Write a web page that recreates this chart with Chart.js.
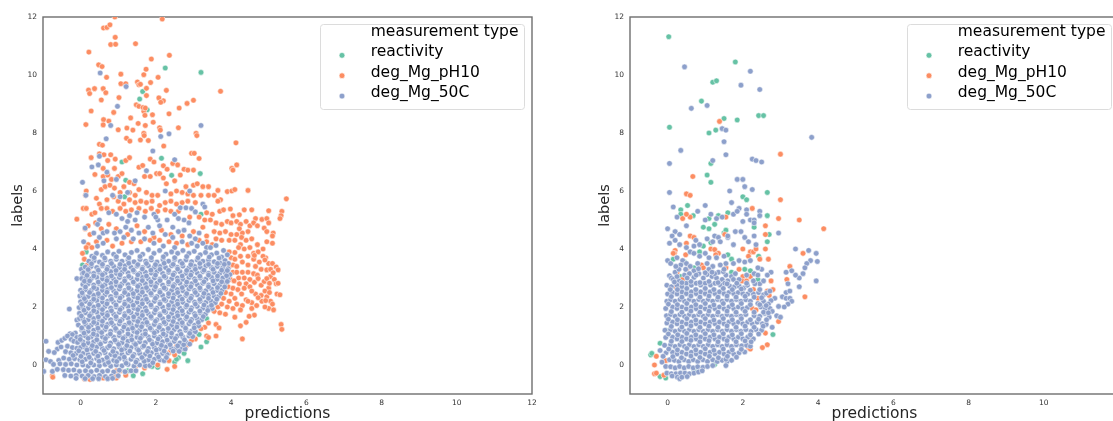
<!DOCTYPE html>
<html><head><meta charset="utf-8">
<script src="https://cdn.jsdelivr.net/npm/chart.js@4"></script>
<style>
html,body{margin:0;padding:0;background:#fff;width:1113px;height:421px;overflow:hidden}
canvas{position:absolute;top:0;filter:blur(0.7px)}
#a{left:0}#b{left:587px}
</style></head><body>
<canvas id="a" width="550" height="421"></canvas>
<canvas id="b" width="550" height="421"></canvas>
<script>
const seriesNames=["reactivity","deg_Mg_pH10","deg_Mg_50C"];
const legendTitle="measurement type";
const seriesColors=["#66c2a5","#fc8d62","#8da0cb"];
const tickValues=[0,2,4,6,8,10,12];

const leftReactivity=[2.25,10.24,3.2,10.09,1.65,9.43,1.57,9.17,1.77,8.8,1.1,7,2.15,7.13,2.42,6.54,3.18,6.6,1.2,6.37,1.17,5.8,3.2,5.2,0.15,3.9,0.05,3.45,3.35,1.6,3.15,1.05,3.2,0.62,3.35,0.8,2.85,0.15,2.7,0.5,2.65,0.75,2.75,0.4,2.6,0.25,2.5,0.1,2.05,-0.08,1.9,-0.05,1.65,-0.3,1.4,-0.2,1.4,-0.37,1.25,-0.2,2.72,0.72,2.55,0.2];

const leftPH10=[0.91,12,2.17,11.93,0.61,11.62,0.7,11.64,0.78,11.73,0.92,11.3,0.8,11.05,0.93,11.06,1.46,11.08,0.22,10.79,2.36,10.68,1.88,10.55,0.48,10.35,0.57,10.29,0.69,9.92,1.07,10.03,1.74,10.2,1.68,10.01,2.06,9.92,0.21,9.48,0.24,9.36,0.37,9.53,0.6,9.53,0.67,9.39,0.55,9.14,1.02,9.22,1.07,9.7,1.2,9.7,1.51,9.76,1.55,9.66,1.59,9.68,1.86,9.74,1.75,9.54,1.75,9.29,2.28,9.47,2.08,9.21,2.2,9.11,2.13,9.06,0.28,8.76,0.88,8.71,1.48,8.97,1.55,8.92,1.68,8.75,1.66,8.88,1.72,8.86,1.71,8.61,1.91,8.63,2.35,8.66,2.62,8.86,2.83,9.02,3,9.13,3.72,9.44,0.14,8.29,0.61,8.46,0.75,8.41,0.6,8.28,1.33,8.52,1.53,8.33,1.72,8.26,1.93,8.37,2.1,8.18,2.12,8.1,2.6,8.18,1,8.11,1.23,8.17,1.39,8.1,3.07,7.99,3.09,7.91,4.13,7.66,1.22,7.82,1.31,7.72,1.59,7.76,1.68,7.99,1.69,7.91,1.8,7.74,0.5,7.61,0.58,7.58,2.21,7.55,
0.28,7.15,0.5,7.28,0.62,7.25,0.8,7.25,0.72,7.05,0.92,7.1,1.2,7.05,1.3,7.15,0.38,6.57,0.6,6.78,0.9,6.78,1.55,6.82,1.65,6.88,1.85,7.1,1.95,7.0,2.02,6.6,2.1,6.6,2.2,6.87,2.3,6.75,2.45,6.95,2.58,6.9,2.75,6.75,2.85,6.72,3,6.72,3.15,7.12,2.95,7.3,3.02,7.3,4.02,6.78,4.05,6.72,4.15,6.9,
0.6,6.5,0.72,6.55,0.82,6.4,1,6.5,1.1,6.6,1.3,6.3,1.42,6.25,1.7,6.5,1.85,6.5,2.2,6.45,2.28,6.25,2.5,6.35,2.65,6.55,2.8,6.15,3,6.2,3.1,6.25,3.25,6.15,3.4,6.15,3.65,6.02,3.9,5.98,4.02,6,4.1,6.05,4.45,6.02,0.15,6,0.13,5.85,0.55,6.05,0.65,6.15,0.78,6.2,0.9,6.1,1.05,5.95,1.15,6.15,1.3,5.95,1.45,5.85,1.55,6.05,1.75,5.95,1.9,5.85,2.05,5.85,2.4,5.9,2.55,6.0,2.7,5.95,2.85,5.9,3,5.85,3.2,5.85,3.4,5.85,3.55,5.85,3.72,5.7,3.65,5.65,5.47,5.73,
0.42,5.75,0.5,5.55,0.7,5.7,0.88,5.8,1,5.65,1.15,5.55,1.3,5.7,1.45,5.6,1.6,5.65,1.75,5.6,1.9,5.65,2.1,5.5,2.25,5.6,2.4,5.65,2.55,5.55,2.7,5.6,2.85,5.65,3.05,5.6,3.35,5.25,3.5,5.2,3.7,5.3,3.8,5.35,3.98,5.38,4.05,5.15,4.22,5.18,4.35,5.35,4.55,5.35,4.65,5.05,4.82,5.02,4.95,5.05,5.35,5.3,5.33,5.15,5.3,5.05,5.0,5.32,
0.07,5.4,0.15,5.4,0.3,5.2,0.38,5.25,0.55,5.4,0.7,5.4,0.85,5.3,1.05,5.4,1.2,5.3,1.35,5.35,1.55,5.4,1.72,5.3,1.88,5.4,2.05,5.3,2.25,5.35,2.4,5.3,2.6,5.3,2.9,5.1,3.15,5.1,3.3,5,3.45,5,3.6,4.9,3.75,4.85,3.9,4.95,4,4.9,4.15,4.95,4.25,4.85,4.4,4.95,4.5,4.8,4.6,4.9,4.7,4.8,4.88,4.72,5.0,4.9,4.95,4.6,5.12,4.55,5.1,4.45,5.1,4.2,4.95,4.25,4.45,4.6,4.3,4.55,4.22,4.7,4.15,4.5,4.28,4.4,
-0.1,5.03,0.2,4.8,0.12,4.7,0.25,4.5,0.4,4.9,0.55,4.7,0.75,4.85,0.95,4.7,1.25,4.5,1.5,4.8,1.7,4.6,1.95,4.4,2.15,4.65,2.4,4.5,2.7,4.45,3.0,4.6,3.25,4.75,3.35,4.45,3.55,4.6,3.7,4.55,3.85,4.6,4,4.5,3.6,4.35,3.75,4.3,3.95,4.3,4.1,4.3,4.25,4.15,4.4,4.3,4.55,4.35,4.7,4.15,
0.2,4.15,0.15,4.05,0.3,4.05,0.42,4.25,0.7,4.3,0.85,4.1,1.1,4.2,1.35,4.25,1.6,4.25,1.85,4.3,2.1,4.3,2.35,4.25,2.55,4.2,2.85,4.15,3.15,4.3,3.35,4.25,3.5,4.15,4.2,4.05,4.35,4.0,4.5,4.05,4.6,3.85,4.72,3.9,4.85,4.0,4.92,3.7,5.0,3.5,5.1,3.5,5.2,3.38,5.25,3.28,4.85,3.75,4.1,3.88,3.95,3.9,
0.05,3.85,0.1,3.65,0.18,3.45,0.22,3.3,0.17,3.1,0.18,3.0,0.2,2.85,4.0,3.7,4.1,3.65,4.25,3.75,4.45,3.75,4.6,3.65,4.75,3.55,3.95,3.4,4.05,3.45,4.15,3.4,4.3,3.55,4.45,3.45,4.65,3.4,4.8,3.3,4.95,3.28,5.05,3.05,5.15,2.95,5.2,2.8,5.0,2.65,4.9,2.55,
4.05,3.2,4.15,3.2,4.3,3.2,4.45,3.2,4.6,3.15,4.7,3.1,4.2,3,4.35,3,4.5,2.95,4.62,2.85,4.8,2.75,3.98,2.95,4.08,2.9,4.22,2.8,4.4,2.8,3.92,2.7,4.05,2.65,4.18,2.6,4.35,2.65,4.5,2.7,4.65,2.45,4.8,2.4,4.95,2.35,5.02,2.5,5.05,2.2,5.25,2.82,5.1,2.1,5.22,2.45,5.3,2.42,5.33,1.4,5.35,1.23,5,1.95,5.13,1.9,4.9,2.0,4.82,2.2,
3.85,2.5,4,2.45,4.1,2.3,4.28,2.45,4.4,2.25,4.55,2.15,3.8,2.3,3.95,2.2,4.15,2.1,4.3,2.05,4.45,2.2,3.65,2,3.75,2.1,3.9,2.0,4.05,1.95,4.25,1.9,4.55,1.95,4.68,2.05,3.55,1.85,3.7,1.8,3.85,1.75,4.1,1.65,3.6,1.4,3.68,1.28,4.25,1.35,4.4,1.47,3.6,1.0,3.35,1,3.4,0.95,4.3,0.9,3.3,1.3,3.4,1.45,3.2,1.25,3.05,0.9,2.95,0.85,2.8,0.65,
4.62,3.78,4.9,3.62,5.05,3.3,4.72,2.98,4.88,2.88,5.12,3.18,4.95,2.98,5.02,2.82,4.55,2.55,4.72,2.32,4.92,2.22,4.62,1.72,4.48,1.68,
-0.75,-0.37,-0.74,-0.42,0.1,-0.47,0.25,-0.5,0.15,-0.42,0.6,-0.45,0.95,-0.45,0.93,-0.35,1.2,-0.35,1.45,-0.1,1.7,-0.1,2.5,-0.05,2.3,-0.15,2.35,0.15,2.5,0.35,2.25,0.4,2.35,0.42,2.4,0.5,2.6,0.5,2.55,0.65,1.05,-0.2,0.95,-0.2,2.05,0.0];

const left50C=[0.52,10.07,1.21,9.6,0.98,8.92,0.8,8.26,0.68,7.8,3.2,8.26,2.13,7.88,2.35,7.97,1.92,7.38,0.5,7.2,0.47,6.9,0.3,6.83,1.75,6.7,2.5,7.08,0.05,6.3,0.14,5.85,0.7,6.65,0.62,6.35,0.95,6.4,1.45,6.35,2.25,6,2.9,6,3.25,5.55,3.3,5.45,-0.3,1.93,-0.1,2.98,0.02,3.3,0.05,3.15,0.12,4.72,0.08,4.25,0.85,5.85,1.05,5.8,1.25,5.95,0.5,5.0,0.45,4.85,0.6,4.55,0.75,5.25,0.95,5.2,1.1,5.05,1.3,5.15,1.25,4.95,1.45,5.0,1.5,5.25,1.7,5.1,1.95,5.2,2.05,5.0,2.0,5.1,2.3,5,2.5,5.2,2.65,5.42,2.8,5.42,2.95,5.4,3.05,5.28,2.75,5.0,2.6,5.05,2.88,4.9,2.45,4.75,
0.35,4.55,0.5,4.4,0.7,4.6,0.9,4.55,1.05,4.6,1.2,4.75,1.35,4.65,1.55,4.55,1.8,4.75,1.92,4.55,2.1,4.8,2.25,4.5,2.45,4.4,2.6,4.6,2.75,4.65,2.9,4.45,3.05,4.35,3.15,4.55,3.25,4.2,3.35,4.05,0.45,4.1,0.6,4.2,0.95,4.35,1.15,4.4,1.4,4.35,1.7,4.35,1.95,4.2,2.2,4.1,2.5,4.05,2.7,4.25,2.95,4.2,3.1,4.1,3.45,4.05,3.6,4.12,3.8,3.95,3.9,3.8,
0.3,3.75,0.42,3.85,0.58,3.78,0.72,3.9,0.88,3.82,1.02,3.92,1.18,3.8,1.35,3.88,1.5,3.95,1.65,3.82,1.8,3.98,1.95,3.85,2.1,3.95,2.27,3.82,2.42,3.9,2.58,3.85,2.72,3.95,2.88,3.85,3.02,3.92,3.18,3.8,3.32,3.88,3.48,3.8,3.62,3.86,3.75,3.72,
0.22,3.58,0.36,3.6,0.5,3.55,0.65,3.62,0.8,3.58,0.95,3.65,1.1,3.58,1.26,3.62,1.42,3.56,1.58,3.64,1.73,3.58,1.88,3.62,2.03,3.55,2.19,3.63,2.34,3.58,2.5,3.64,2.65,3.57,2.8,3.62,2.95,3.56,3.1,3.62,3.25,3.58,3.4,3.62,3.55,3.56,3.7,3.52,3.84,3.6,3.93,3.5,
0.12,3.38,0.28,3.4,0.43,3.36,0.58,3.42,0.72,3.37,0.88,3.4,1.03,3.36,1.18,3.42,1.34,3.37,1.5,3.41,1.65,3.36,1.8,3.42,1.96,3.37,2.11,3.4,2.26,3.36,2.42,3.42,2.57,3.37,2.72,3.41,2.88,3.35,3.03,3.4,3.18,3.37,3.33,3.42,3.48,3.36,3.63,3.4,3.78,3.35,3.92,3.32,
0.08,3.18,0.21,3.2,0.35,3.16,0.5,3.2,0.65,3.17,0.8,3.22,0.95,3.16,1.1,3.2,1.26,3.18,1.42,3.22,1.57,3.15,1.72,3.2,1.88,3.17,2.03,3.22,2.18,3.16,2.34,3.2,2.49,3.17,2.64,3.22,2.8,3.16,2.95,3.2,3.1,3.17,3.25,3.22,3.4,3.16,3.55,3.2,3.7,3.16,3.85,3.18,3.97,3.12,
0.03,2.98,0.14,3,0.28,2.97,0.43,3.02,0.58,2.97,0.72,3,0.88,2.96,1.03,3.02,1.18,2.97,1.34,3,1.5,2.96,1.65,3.02,1.8,2.97,1.96,3,2.11,2.96,2.26,3.02,2.42,2.97,2.57,3,2.72,2.96,2.88,3.02,3.03,2.97,3.18,3,3.33,2.96,3.48,3.02,3.63,2.96,3.78,3,3.92,2.96,
0.06,2.78,0.2,2.8,0.35,2.76,0.5,2.8,0.65,2.77,0.8,2.82,0.95,2.76,1.1,2.8,1.26,2.77,1.42,2.82,1.57,2.76,1.72,2.8,1.88,2.77,2.03,2.82,2.18,2.76,2.34,2.8,2.49,2.77,2.64,2.82,2.8,2.76,2.95,2.8,3.1,2.77,3.25,2.82,3.4,2.76,3.55,2.8,3.7,2.76,3.84,2.8,
0,2.58,0.13,2.6,0.28,2.57,0.43,2.62,0.58,2.57,0.72,2.6,0.88,2.56,1.03,2.62,1.18,2.57,1.34,2.6,1.5,2.56,1.65,2.62,1.8,2.57,1.96,2.6,2.11,2.56,2.26,2.62,2.42,2.57,2.57,2.6,2.72,2.56,2.88,2.62,3.03,2.57,3.18,2.6,3.33,2.56,3.48,2.62,3.63,2.57,3.76,2.58,
-0.02,2.38,0.06,2.4,0.2,2.36,0.35,2.4,0.5,2.37,0.65,2.42,0.8,2.36,0.95,2.4,1.1,2.37,1.26,2.42,1.42,2.36,1.57,2.4,1.72,2.37,1.88,2.42,2.03,2.36,2.18,2.4,2.34,2.37,2.49,2.42,2.64,2.36,2.8,2.4,2.95,2.37,3.1,2.42,3.25,2.36,3.4,2.4,3.55,2.37,3.67,2.36,
0,2.18,0.13,2.2,0.28,2.17,0.43,2.22,0.58,2.17,0.72,2.2,0.88,2.16,1.03,2.22,1.18,2.17,1.34,2.2,1.5,2.16,1.65,2.22,1.8,2.17,1.96,2.2,2.11,2.16,2.26,2.22,2.42,2.17,2.57,2.2,2.72,2.16,2.88,2.22,3.03,2.17,3.18,2.2,3.33,2.16,3.47,2.2,3.58,2.15,
-0.04,1.98,0.06,2,0.2,1.96,0.35,2,0.5,1.97,0.65,2.02,0.8,1.96,0.95,2,1.1,1.97,1.26,2.02,1.42,1.96,1.57,2,1.72,1.97,1.88,2.02,2.03,1.96,2.18,2,2.34,1.97,2.49,2.02,2.64,1.96,2.8,2,2.95,1.97,3.1,2.02,3.25,1.96,3.4,1.98,3.5,1.95,
-0.03,1.78,0.13,1.8,0.28,1.77,0.43,1.82,0.58,1.77,0.72,1.8,0.88,1.76,1.03,1.82,1.18,1.77,1.34,1.8,1.5,1.76,1.65,1.82,1.8,1.77,1.96,1.8,2.11,1.76,2.26,1.82,2.42,1.77,2.57,1.8,2.72,1.76,2.88,1.82,3.03,1.77,3.18,1.8,3.32,1.76,
-0.1,1.55,-0.03,1.6,0.06,1.6,0.2,1.56,0.35,1.6,0.5,1.57,0.65,1.62,0.8,1.56,0.95,1.6,1.1,1.57,1.26,1.62,1.42,1.56,1.57,1.6,1.72,1.57,1.88,1.62,2.03,1.56,2.18,1.6,2.34,1.57,2.49,1.62,2.64,1.56,2.8,1.6,2.95,1.57,3.1,1.6,3.22,1.56,
-0.06,1.38,0.13,1.4,0.28,1.37,0.43,1.42,0.58,1.37,0.72,1.4,0.88,1.36,1.03,1.42,1.18,1.37,1.34,1.4,1.5,1.36,1.65,1.42,1.8,1.37,1.96,1.4,2.11,1.36,2.26,1.42,2.42,1.37,2.57,1.4,2.72,1.36,2.88,1.42,3.03,1.37,3.14,1.35,
-0.14,1.1,-0.28,1.08,-0.22,1.05,0.03,1.2,0.06,1.18,0.2,1.16,0.35,1.2,0.5,1.17,0.65,1.22,0.8,1.16,0.95,1.2,1.1,1.17,1.26,1.22,1.42,1.16,1.57,1.2,1.72,1.17,1.88,1.22,2.03,1.16,2.18,1.2,2.34,1.17,2.49,1.22,2.64,1.16,2.8,1.2,2.95,1.17,3.05,1.15,
-0.1,0.95,0.0,0.98,0.13,1,0.28,0.97,0.43,1.02,0.58,0.97,0.72,1,0.88,0.96,1.03,1.02,1.18,0.97,1.34,1,1.5,0.96,1.65,1.02,1.8,0.97,1.96,1,2.11,0.96,2.26,1.02,2.42,0.97,2.57,1,2.72,0.96,2.88,1,2.98,0.98,
-0.92,0.82,-0.6,0.78,-0.5,0.85,-0.42,0.92,-0.35,1.0,-0.25,0.88,-0.18,0.82,-0.08,0.78,0.06,0.8,0.2,0.76,0.35,0.8,0.5,0.77,0.65,0.82,0.8,0.76,0.95,0.8,1.1,0.77,1.26,0.82,1.42,0.76,1.57,0.8,1.72,0.77,1.88,0.82,2.03,0.76,2.18,0.8,2.34,0.77,2.49,0.82,2.64,0.76,2.8,0.78,2.9,0.72,
-0.62,0.55,-0.52,0.62,-0.35,0.65,-0.22,0.6,-0.1,0.58,0.0,0.6,0.13,0.6,0.28,0.57,0.43,0.62,0.58,0.57,0.72,0.6,0.88,0.56,1.03,0.62,1.18,0.57,1.34,0.6,1.5,0.56,1.65,0.62,1.8,0.57,1.96,0.6,2.11,0.56,2.26,0.62,2.42,0.57,2.55,0.58,2.68,0.56,2.78,0.55,
-0.85,0.47,-0.7,0.43,-0.4,0.46,-0.26,0.42,-0.12,0.4,0.06,0.4,0.2,0.36,0.35,0.4,0.5,0.37,0.65,0.42,0.8,0.36,0.95,0.4,1.1,0.37,1.26,0.42,1.42,0.36,1.57,0.4,1.72,0.37,1.88,0.42,2.03,0.36,2.18,0.4,2.3,0.36,
-0.92,0.18,-0.8,0.12,-0.58,0.16,-0.45,0.24,-0.3,0.2,-0.16,0.22,-0.02,0.18,0.13,0.2,0.28,0.17,0.43,0.22,0.58,0.17,0.72,0.2,0.88,0.16,1.03,0.22,1.18,0.17,1.34,0.2,1.5,0.16,1.65,0.22,1.8,0.17,1.96,0.2,2.11,0.18,2.22,0.15,
-0.72,0.02,-0.55,0.04,-0.4,0.02,-0.25,0.04,-0.1,0.0,0.06,0,0.2,-0.04,0.35,0,0.5,-0.03,0.65,0.02,0.8,-0.04,0.95,0,1.1,-0.03,1.26,0.02,1.42,-0.04,1.57,0,1.72,-0.03,1.84,-0.02,
-0.98,-0.22,-0.75,-0.22,-0.62,-0.15,-0.46,-0.16,-0.32,-0.18,-0.18,-0.17,-0.03,-0.22,0.13,-0.2,0.28,-0.23,0.43,-0.18,0.58,-0.23,0.72,-0.2,0.88,-0.24,1.03,-0.18,1.18,-0.23,1.34,-0.2,1.47,-0.2,
-0.42,-0.36,-0.26,-0.38,-0.12,-0.36,0.04,-0.38,0.2,-0.36,0.36,-0.4,0.5,-0.36,0.66,-0.4,0.82,-0.38,1.0,-0.37,
-0.12,-0.46,0.12,-0.47,0.32,-0.47,0.48,-0.47,0.72,-0.47,0.85,-0.46,
0.04,0.11,0.27,0.07,0.49,0.13,0.74,0.09,0.96,0.12,1.21,0.06,1.47,0.1,1.69,0.13,1.92,0.08,
-0.2,0.33,0.01,0.3,0.23,0.27,0.46,0.31,0.7,0.26,0.91,0.32,1.16,0.27,1.39,0.3,1.63,0.26,1.84,0.31,2.07,0.28,2.28,0.26,
-0.05,0.49,0.17,0.52,0.4,0.47,0.62,0.5,0.86,0.47,1.09,0.52,1.31,0.48,1.54,0.51,1.78,0.47,2.01,0.52,2.22,0.48,2.46,0.48,2.62,0.47,
0.08,0.7,0.31,0.67,0.53,0.72,0.77,0.66,1.01,0.71,1.23,0.67,1.46,0.71,1.68,0.66,1.91,0.72,2.15,0.68,2.38,0.7,2.58,0.66,2.74,0.7,
-0.01,0.88,0.2,0.92,0.43,0.87,0.66,0.91,0.91,0.86,1.13,0.92,1.36,0.87,1.59,0.92,1.83,0.87,2.06,0.9,2.3,0.86,2.52,0.91,2.76,0.87,
0.09,1.1,0.34,1.07,0.56,1.12,0.79,1.07,1.03,1.11,1.26,1.07,1.5,1.12,1.72,1.07,1.96,1.11,2.2,1.07,2.42,1.1,2.67,1.06,2.9,1.09,
0.03,1.28,0.21,1.3,0.46,1.27,0.68,1.31,0.93,1.26,1.15,1.31,1.38,1.27,1.62,1.32,1.85,1.27,2.09,1.3,2.33,1.26,2.56,1.31,2.79,1.27,3.02,1.28,
0.1,1.49,0.35,1.47,0.58,1.51,0.82,1.46,1.05,1.51,1.29,1.46,1.52,1.5,1.76,1.47,1.99,1.51,2.22,1.47,2.46,1.5,2.7,1.46,2.92,1.5,3.13,1.47,
0.02,1.69,0.24,1.7,0.47,1.66,0.71,1.71,0.94,1.67,1.17,1.7,1.41,1.66,1.64,1.71,1.87,1.67,2.11,1.71,2.34,1.66,2.58,1.7,2.82,1.66,3.05,1.7,3.26,1.67,
0.09,1.89,0.35,1.87,0.58,1.91,0.82,1.87,1.05,1.91,1.28,1.86,1.52,1.91,1.75,1.87,1.99,1.9,2.22,1.86,2.46,1.91,2.7,1.87,2.93,1.9,3.17,1.86,3.38,1.88,
0.03,2.09,0.24,2.1,0.47,2.06,0.7,2.11,0.94,2.07,1.17,2.1,1.4,2.06,1.64,2.11,1.87,2.07,2.11,2.11,2.34,2.06,2.58,2.1,2.82,2.06,3.05,2.1,3.28,2.07,3.48,2.06,
0.1,2.29,0.35,2.27,0.58,2.31,0.82,2.27,1.05,2.31,1.28,2.26,1.52,2.31,1.75,2.27,1.99,2.3,2.22,2.26,2.46,2.31,2.7,2.27,2.93,2.3,3.17,2.26,3.4,2.3,3.62,2.27,
0.04,2.49,0.24,2.5,0.47,2.46,0.7,2.51,0.94,2.47,1.17,2.5,1.4,2.46,1.64,2.51,1.87,2.47,2.11,2.51,2.34,2.46,2.58,2.5,2.82,2.46,3.05,2.5,3.28,2.47,3.52,2.5,3.73,2.47,
0.13,2.69,0.35,2.67,0.58,2.71,0.82,2.67,1.05,2.71,1.28,2.66,1.52,2.71,1.75,2.67,1.99,2.7,2.22,2.66,2.46,2.71,2.7,2.67,2.93,2.7,3.17,2.66,3.4,2.7,3.64,2.67,3.83,2.69,
0.1,2.89,0.24,2.9,0.47,2.86,0.7,2.91,0.94,2.87,1.17,2.9,1.4,2.86,1.64,2.91,1.87,2.87,2.11,2.91,2.34,2.86,2.58,2.9,2.82,2.86,3.05,2.9,3.28,2.87,3.52,2.9,3.75,2.87,3.9,2.88,
0.17,3.09,0.35,3.07,0.58,3.11,0.82,3.07,1.05,3.11,1.28,3.06,1.52,3.11,1.75,3.07,1.99,3.1,2.22,3.06,2.46,3.11,2.7,3.07,2.93,3.1,3.17,3.06,3.4,3.1,3.64,3.07,3.88,3.08,
0.2,3.29,0.47,3.27,0.7,3.3,0.94,3.26,1.17,3.3,1.4,3.27,1.64,3.31,1.87,3.27,2.11,3.3,2.34,3.26,2.58,3.31,2.82,3.26,3.05,3.3,3.28,3.27,3.52,3.3,3.75,3.27,3.9,3.26,
0.29,3.49,0.58,3.47,0.82,3.5,1.05,3.47,1.28,3.51,1.52,3.46,1.75,3.5,1.99,3.46,2.22,3.51,2.46,3.47,2.7,3.5,2.93,3.46,3.17,3.5,3.4,3.47,3.64,3.5,3.82,3.47,
0.36,3.7,0.64,3.69,0.95,3.73,1.28,3.7,1.58,3.74,1.88,3.7,2.2,3.73,2.5,3.7,2.82,3.74,3.12,3.7,3.42,3.72,3.68,3.69];

const rightReactivity=[0.03,11.32,1.8,10.45,1.2,9.75,1.3,9.8,0.9,9.1,0.05,8.2,1.5,8.5,2.42,8.6,2.55,8.6,1.85,8.45,1.28,8.1,1.1,8,1.15,6.95,1.05,6.55,1.15,6.3,2.65,5.95,2,5.8,2.1,5.7,0.53,5.5,0.35,5.35,0.35,5.2,0.68,5.15,1.1,5.05,1.35,5.15,1.6,5.25,1.1,4.7,1.25,4.85,0.95,4.75,1.5,4.55,1.55,4.65,2.3,4.75,2.65,5.15,2.7,4.5,2.65,4.25,1.15,4.22,0.95,4.1,0.15,3.65,0.45,3.55,0.85,3.9,1.6,3.8,1.7,3.65,2.42,3.75,1.7,3.2,2.05,3.3,2.2,3.25,0.35,3.05,0.7,3.35,2.4,2.95,-0.05,1.2,-0.2,0.75,-0.45,0.35,-0.42,0.4,-0.2,-0.4,-0.05,-0.45,0.7,-0.15,1.25,0.02,2.8,1.05];

const rightPH10=[1.38,8.4,3,7.27,0.5,5.9,0.6,5.85,0.67,6.5,3,5.7,3.5,5,4.15,4.7,0.4,5.05,0.6,5.1,0.5,5.2,1.55,5.1,2.25,5.4,2.6,4.8,2.95,5.05,2.6,4.5,1.52,4.5,0.6,4.45,0.7,4.4,0.5,4.2,0.48,3.8,0.2,3.95,0.18,3.85,0.15,3.85,1.15,4,1.25,3.98,1.35,3.85,1.28,3.8,2,4,2.2,3.9,2.28,3.9,2.35,4,2.15,3.75,2.6,4,2.45,3.65,2.68,3.65,3.6,3.85,3.25,3.4,3.17,2.95,3.65,2.35,0.25,3.2,0.28,2.85,0.22,2.7,0.4,2.95,0.35,2.8,0.5,3.3,0.9,3.45,0.95,3.35,1.55,3.35,1.9,3.3,2.0,3.05,1.98,2.9,2.1,2.9,2.2,3.05,2.28,2.6,2.65,2.55,2.75,2.9,2.8,2.6,2.7,2.4,2.4,2.3,2.2,2.05,2.25,1.95,2.35,1.9,2.95,1.5,2.6,1.1,2.65,0.7,2.52,0.6,2.2,0.95,2.15,0.6,2.2,0.55,-0.35,0,-0.35,-0.3,-0.3,-0.28,-0.3,0.3,-0.1,-0.35,-0.05,0.15];

const right50C=[0.45,10.28,2.2,10.13,1.95,9.65,2.45,9.5,0.63,8.85,1.05,8.95,3.83,7.85,0.35,7.4,0.05,6.95,1.45,8.15,1.5,7.7,1.55,7.25,1.2,7.05,2.25,7.1,2.35,7.05,2.5,7,1.85,6.4,2,6.4,2.05,6.15,2.25,6.05,1.65,6,1.55,8.1,0.05,5.95,0.15,5.45,0.25,5.1,0.8,5.3,1.0,5.5,1.7,5.6,1.9,5.4,2.1,5.35,2.45,5.3,2.45,5.15,1.15,5.2,1.3,5.05,1.45,5.1,1.0,5.0,1.75,5.2,1.85,5.3,2.1,5.2,2.2,5.0,2.3,5.0,2.3,4.9,2.0,4.95,
0.0,4.7,0.2,4.6,0.12,4.45,0.2,4.3,0.32,4.5,0.5,4.8,0.05,4.2,0.32,4.15,0.5,4.05,0.7,4.1,0.75,4.3,0.85,4.15,1.05,4.35,1.25,4.45,1.35,4.4,1.4,4.25,1.6,4.4,1.75,4.15,1.8,4.6,1.95,4.6,2.05,4.4,2.15,4.25,2.3,4.45,2.35,4.15,2.95,4.55,1.2,4.25,1.6,4.45,
0.0,3.6,0.08,3.5,0.25,3.7,0.4,3.6,0.6,3.9,0.7,3.85,0.85,3.75,1.0,3.85,1.1,3.7,1.3,3.7,1.5,3.75,1.55,3.5,1.75,3.5,1.9,3.6,2.05,3.55,2.2,3.6,2.5,3.3,2.4,3.35,3.4,4,3.75,3.95,3.95,3.85,3.98,3.57,3.8,3.6,3.7,3.5,3.65,3.35,3.6,3.15,3.95,2.9,3.5,3,3.4,3.1,3.3,3.25,3.15,3.2,2.75,3.2,2.65,3.1,3.2,2.8,3.15,2.5,3.25,2.55,3.05,2.35,3.15,2.3,3.25,2.3,3.3,2.2,3.2,2.1,3.1,2,2.95,2.02,2.85,2.3,2.9,1.7,3,1.65,3.5,2.7,
0.35,3.45,0.5,3.5,0.6,3.4,0.8,3.5,1.05,3.5,1.2,3.4,1.4,3.45,1.1,3.3,0.7,3.25,1.35,3.2,1.55,3.1,1.7,3.05,0.2,3.2,0.05,3.08,0.1,3,0.3,3.3,
0.15,2.95,0.3,2.9,0.45,3.1,0.58,3.15,0.7,3.02,0.83,3.15,0.95,3.0,1.05,3.12,1.18,3.05,1.3,3.0,1.45,2.95,1.6,2.9,1.75,2.95,1.9,2.95,2.1,3.1,2.3,3.15,2.4,3.1,2.45,2.8,2.55,2.9,
-0.02,2.75,0.1,2.7,0.25,2.75,0.38,2.7,0.5,2.82,0.63,2.75,0.76,2.82,0.88,2.76,1.0,2.82,1.14,2.76,1.26,2.82,1.4,2.76,1.52,2.82,1.65,2.72,1.78,2.7,1.9,2.72,2.02,2.65,2.12,2.75,2.32,2.8,
0.0,2.45,0.13,2.5,0.25,2.45,0.38,2.52,0.5,2.46,0.63,2.52,0.76,2.46,0.88,2.52,1,2.46,1.13,2.52,1.26,2.46,1.38,2.52,1.5,2.46,1.63,2.5,1.76,2.46,1.88,2.5,2,2.46,2.13,2.45,2.28,2.45,2.42,2.5,2.55,2.42,2.63,2.48,2.75,2.22,2.72,2.55,
-0.02,2.2,0.08,2.25,0.2,2.2,0.33,2.26,0.45,2.2,0.58,2.26,0.7,2.2,0.83,2.26,0.95,2.2,1.08,2.26,1.2,2.2,1.33,2.26,1.45,2.2,1.58,2.26,1.7,2.2,1.83,2.26,1.95,2.2,2.08,2.25,2.2,2.2,2.4,2.12,2.55,2.2,2.68,2.1,
-0.05,1.95,0.13,2,0.25,1.95,0.38,2,0.5,1.94,0.63,2,0.76,1.94,0.88,2,1,1.94,1.13,2,1.26,1.94,1.38,2,1.5,1.94,1.63,2,1.76,1.94,1.88,2,2,1.94,2.12,1.98,2.48,2,2.6,1.95,2.72,1.95,2.78,1.85,
-0.03,1.7,0.08,1.74,0.2,1.68,0.33,1.74,0.45,1.68,0.58,1.74,0.7,1.68,0.83,1.74,0.95,1.68,1.08,1.74,1.2,1.68,1.33,1.74,1.45,1.68,1.58,1.74,1.7,1.68,1.83,1.74,1.95,1.68,2.08,1.74,2.3,1.7,2.45,1.68,2.58,1.78,2.7,1.65,
-0.02,1.45,0.13,1.48,0.25,1.42,0.38,1.48,0.5,1.42,0.63,1.48,0.76,1.42,0.88,1.48,1,1.42,1.13,1.48,1.26,1.42,1.38,1.48,1.5,1.42,1.63,1.48,1.76,1.42,1.88,1.48,2,1.42,2.13,1.48,2.25,1.42,2.38,1.48,2.52,1.42,2.62,1.4,2.78,1.3,
-0.07,1.2,0.08,1.22,0.2,1.16,0.33,1.22,0.45,1.16,0.58,1.22,0.7,1.16,0.83,1.22,0.95,1.16,1.08,1.22,1.2,1.16,1.33,1.22,1.45,1.16,1.58,1.22,1.7,1.16,1.83,1.22,1.95,1.16,2.08,1.22,2.22,1.16,2.35,1.22,2.5,1.2,
-0.05,0.95,0.13,0.96,0.25,0.9,0.38,0.96,0.5,0.9,0.63,0.96,0.76,0.9,0.88,0.96,1,0.9,1.13,0.96,1.26,0.9,1.38,0.96,1.5,0.9,1.63,0.96,1.76,0.9,1.88,0.96,2,0.9,2.13,0.96,2.28,0.9,
-0.08,0.68,0.08,0.7,0.2,0.64,0.33,0.7,0.45,0.64,0.58,0.7,0.7,0.64,0.83,0.7,0.95,0.64,1.08,0.7,1.2,0.64,1.33,0.7,1.45,0.64,1.58,0.7,1.7,0.64,1.83,0.7,1.97,0.66,2.1,0.68,2.2,0.65,
-0.04,0.42,0.13,0.44,0.25,0.38,0.38,0.44,0.5,0.38,0.63,0.44,0.76,0.38,0.88,0.44,1,0.38,1.13,0.44,1.26,0.38,1.38,0.44,1.5,0.38,1.63,0.44,1.76,0.38,1.9,0.42,2.05,0.45,
-0.2,0.5,-0.12,0.3,0.05,0.18,0.18,0.16,0.3,0.12,0.44,0.18,0.56,0.12,0.68,0.18,0.8,0.12,0.94,0.18,1.06,0.12,1.2,0.18,1.32,0.12,1.45,0.16,1.58,0.12,1.7,0.16,1.55,0.2,
-0.15,0.1,-0.05,-0.05,0.08,-0.06,0.2,-0.1,0.32,-0.05,0.44,-0.1,0.56,-0.05,0.68,-0.1,0.8,-0.06,0.94,-0.08,1.06,-0.05,1.2,-0.02,1.55,-0.02,
-0.02,-0.28,0.1,-0.3,0.22,-0.3,0.34,-0.28,0.46,-0.28,0.58,-0.3,0.7,-0.28,0.82,-0.24,0.92,-0.2,
0.12,-0.38,0.26,-0.42,0.32,-0.47,0.38,-0.42,0.52,-0.4,
0.14,0.29,0.37,0.25,0.62,0.31,0.86,0.26,1.11,0.3,1.35,0.25,1.59,0.3,1.83,0.27,
0.03,0.55,0.26,0.52,0.51,0.57,0.75,0.52,1,0.56,1.23,0.51,1.48,0.55,1.72,0.52,1.96,0.54,
0.1,0.82,0.38,0.81,0.62,0.85,0.86,0.8,1.1,0.84,1.34,0.8,1.58,0.84,1.82,0.8,2.06,0.83,2.22,0.8,
0.02,1.07,0.27,1.04,0.51,1.09,0.75,1.04,1,1.08,1.23,1.04,1.48,1.08,1.72,1.04,1.96,1.08,2.2,1.04,2.42,1.07,
0.1,1.33,0.38,1.31,0.62,1.35,0.86,1.3,1.1,1.34,1.34,1.3,1.58,1.35,1.82,1.3,2.06,1.34,2.3,1.3,2.54,1.34,
0.02,1.58,0.26,1.56,0.51,1.6,0.75,1.55,1,1.6,1.23,1.55,1.48,1.6,1.72,1.56,1.96,1.6,2.2,1.56,2.42,1.58,2.63,1.56,
0.1,1.84,0.38,1.82,0.62,1.86,0.86,1.82,1.1,1.86,1.34,1.82,1.58,1.86,1.82,1.82,2.06,1.85,2.3,1.82,2.55,1.82,2.68,1.8,
0.02,2.1,0.26,2.08,0.51,2.12,0.75,2.08,1,2.12,1.23,2.07,1.48,2.12,1.72,2.08,1.96,2.12,2.2,2.08,2.45,2.08,2.62,2.05,
0.1,2.36,0.38,2.34,0.62,2.38,0.86,2.34,1.1,2.38,1.34,2.34,1.58,2.38,1.82,2.34,2.06,2.37,2.3,2.34,2.5,2.32,
0.07,2.6,0.26,2.6,0.51,2.64,0.75,2.6,1,2.64,1.23,2.6,1.48,2.64,1.72,2.6,1.96,2.62,2.2,2.58,2.45,2.6,
0.18,2.86,0.38,2.84,0.62,2.88,0.86,2.84,1.1,2.88,1.34,2.84,1.58,2.8,1.84,2.82,2.1,2.82,2.28,2.9,
0.25,3.05,0.52,3,0.76,3.1,1.0,3.18,1.25,3.15,1.48,3.22,1.8,3.15,
0.22,3.4,0.48,3.3,0.82,3.32,1.18,3.2,1.5,3.3];

const toPoints=f=>{const out=[];for(let i=0;i<f.length;i+=2)out.push({x:f[i],y:f[i+1]});return out;};

const layoutPlugin={id:'panelFrame',
 beforeDraw(c){const l=c.legend,a=c.chartArea,x=c.ctx;
  x.save();x.strokeStyle='#dcdcdc';x.lineWidth=1;x.fillStyle='#fff';
  x.beginPath();x.roundRect(a.left+277.5,a.top+7.5,204,85,3);x.fill();x.stroke();x.restore();
  if(l){l.left=a.left+300;l.top=a.top+2;}},
 beforeDatasetsDraw(c){const a=c.chartArea,x=c.ctx;
  x.save();x.strokeStyle='#6e6e6e';x.lineWidth=1.4;x.strokeRect(a.left,a.top,a.right-a.left,a.bottom-a.top);x.restore();},
 afterDraw(c){const a=c.chartArea,x=c.ctx;
  c.legend.legendItems.forEach((it,i)=>{if(i===0)return;
    x.save();x.fillStyle=seriesColors[i-1];x.strokeStyle='#fff';x.lineWidth=0.6;
    x.beginPath();x.arc(a.left+299,a.top+18+i*20.35,2.9,0,7);x.fill();x.stroke();x.restore();});}
};

function build(id,r,o,b){
 const mk=(name,i,d)=>({label:name,data:toPoints(d),backgroundColor:seriesColors[i],borderColor:'rgba(255,255,255,0.85)',borderWidth:0.6,pointRadius:2.8,pointHoverRadius:2.8,order:3-i,clip:0});
 new Chart(document.getElementById(id),{type:'scatter',
  data:{datasets:[mk(seriesNames[0],0,r),mk(seriesNames[1],1,o),mk(seriesNames[2],2,b)]},
  plugins:[layoutPlugin],
  options:{responsive:false,animation:false,events:[],
   layout:{padding:{left:0,top:17,right:18,bottom:0}},
   plugins:{tooltip:{enabled:false},
    legend:{display:true,position:'chartArea',align:'start',
     labels:{font:{family:'DejaVu Sans',size:15.5},color:'#262626',padding:5,boxWidth:15,boxHeight:0,
      generateLabels:()=>[{text:legendTitle,fillStyle:'rgba(0,0,0,0)',strokeStyle:'rgba(0,0,0,0)',lineWidth:0}].concat(seriesNames.map(n=>({text:n,fillStyle:'rgba(0,0,0,0)',strokeStyle:'rgba(0,0,0,0)',lineWidth:0})))}}},
   scales:{
    x:{type:'linear',min:-1,max:12,grid:{display:false,drawTicks:true,tickLength:3,tickColor:'#666'},border:{display:false},
     afterBuildTicks:s=>{s.ticks=tickValues.map(v=>({value:v}));},
     afterFit:s=>{s.height=27;},
     ticks:{maxRotation:0,autoSkip:false,font:{family:'DejaVu Sans',size:7.5},color:'#333',padding:2},
     title:{display:true,text:'predictions',font:{family:'DejaVu Sans',size:15.5},color:'#262626',padding:{top:0,bottom:-2}}},
    y:{type:'linear',min:-1,max:12,grid:{display:false,tickLength:3,tickColor:'#666'},border:{display:false},
     afterBuildTicks:s=>{s.ticks=tickValues.map(v=>({value:v}));},
     afterFit:s=>{s.width=43;},
     ticks:{autoSkip:false,font:{family:'DejaVu Sans',size:7.5},color:'#333',padding:3},
     title:{display:true,text:'labels',font:{family:'DejaVu Sans',size:14.5},color:'#262626',padding:{top:10,bottom:0}}}
   }}});
}
build('a',leftReactivity,leftPH10,left50C);
build('b',rightReactivity,rightPH10,right50C);
</script></body></html>
